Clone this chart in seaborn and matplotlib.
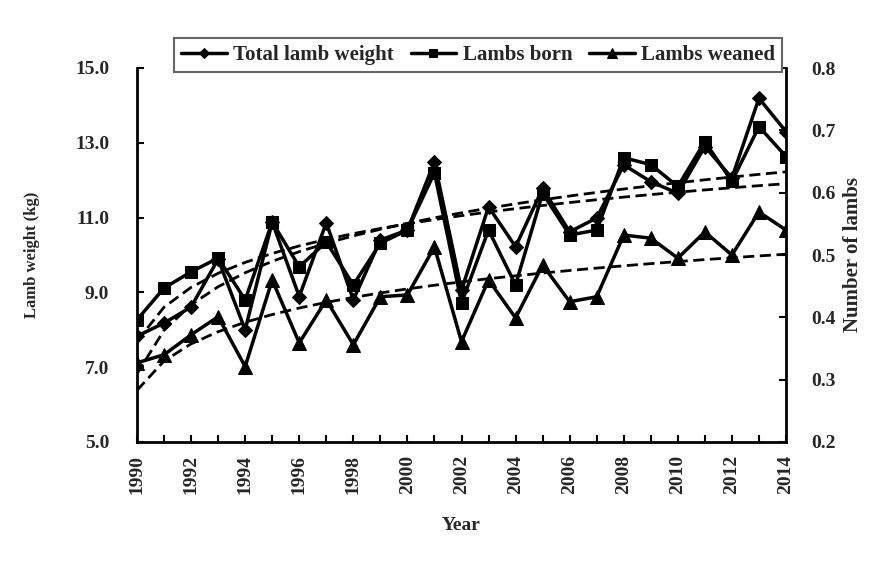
import numpy as np
import pandas as pd
import seaborn as sns
import matplotlib.pyplot as plt

# values
years = list(range(1990, 2015))
total_weight = [7.83, 8.18, 8.61, 9.89, 8.00, 10.88, 8.89, 10.86, 8.80, 10.40,
                10.67, 12.49, 9.06, 11.29, 10.22, 11.78, 10.62, 10.99, 12.41, 11.96,
                11.65, 12.90, 12.06, 14.19, 13.30]
lambs_born = [0.396, 0.447, 0.473, 0.495, 0.428, 0.553, 0.481, 0.521, 0.452, 0.519,
              0.540, 0.632, 0.423, 0.540, 0.452, 0.599, 0.532, 0.540, 0.656, 0.645,
              0.610, 0.682, 0.618, 0.706, 0.658]
lambs_weaned = [0.327, 0.340, 0.372, 0.401, 0.321, 0.460, 0.359, 0.428, 0.356, 0.433,
                0.436, 0.513, 0.361, 0.460, 0.399, 0.484, 0.425, 0.433, 0.532, 0.527,
                0.495, 0.537, 0.500, 0.569, 0.540]

df = pd.DataFrame({'Year': years, 'Total lamb weight': total_weight,
                   'Lambs born': lambs_born, 'Lambs weaned': lambs_weaned})

sns.set_style('white')
plt.rcParams['font.family'] = ['Liberation Serif', 'DejaVu Serif']
plt.rcParams['font.weight'] = 'bold'
plt.rcParams['xtick.direction'] = 'in'
plt.rcParams['ytick.direction'] = 'in'

fig = plt.figure(figsize=(8.81, 5.66), dpi=100)
ax = fig.add_axes([137 / 881, 1 - 442 / 566, (786 - 137) / 881, (442 - 68) / 566])
ax2 = ax.twinx()


def log_trend(y):
    # Excel-style logarithmic trendline
    idx = np.arange(1, len(y) + 1)
    a, b = np.polyfit(np.log(idx), y, 1)
    return a * np.log(idx) + b


sns.lineplot(data=df, x='Year', y='Total lamb weight', ax=ax, color='black',
             lw=2.5, marker='D', markersize=7, markeredgecolor='black')
sns.lineplot(data=df, x='Year', y='Lambs born', ax=ax2, color='black',
             lw=2.5, marker='s', markersize=9, markeredgecolor='black')
sns.lineplot(data=df, x='Year', y='Lambs weaned', ax=ax2, color='black',
             lw=2.5, marker='^', markersize=10, markeredgecolor='black')

ax.plot(years, log_trend(total_weight), color='black', lw=2, ls=(0, (4, 2)))
ax2.plot(years, log_trend(lambs_born), color='black', lw=2, ls=(0, (4, 2)))
ax2.plot(years, log_trend(lambs_weaned), color='black', lw=2, ls=(0, (4, 2)))

ax.set_xlim(1990, 2014)
ax.set_ylim(5, 15)
ax2.set_ylim(0.2, 0.8)
ax.set_xticks(years, minor=True)
ax.set_xticks(years[::2])
ax.set_xticklabels([str(y) for y in years[::2]], rotation=90, fontsize=14, fontweight='bold')
ax.set_yticks(np.arange(5, 15.1, 2))
ax.set_yticklabels(['%.1f' % v for v in np.arange(5, 15.1, 2)], fontsize=14, fontweight='bold')
ax2.set_yticks(np.arange(0.2, 0.81, 0.1))
ax2.set_yticklabels(['%.1f' % v for v in np.arange(0.2, 0.81, 0.1)], fontsize=14, fontweight='bold')

for a in (ax, ax2):
    a.spines['top'].set_visible(False)
    for s in ('left', 'right', 'bottom'):
        a.spines[s].set_linewidth(2)
        a.spines[s].set_color('black')
ax.spines['right'].set_visible(False)
ax2.spines['left'].set_visible(False)
ax2.spines['bottom'].set_visible(False)

ax.tick_params(axis='x', which='both', direction='in', length=5, width=1.5,
               color='black', bottom=True, pad=9)
ax.tick_params(axis='y', direction='in', length=5, width=1.5, color='black',
               left=True, pad=20)
ax2.tick_params(axis='y', direction='in', length=5, width=1.5, color='black',
                right=True, pad=18)

ax.set_xlabel('Year', fontsize=14, fontweight='bold')
ax.xaxis.set_label_coords(0.5, -0.2)
ax.set_ylabel('Lamb weight (kg)', fontsize=12, fontweight='bold')
ax.yaxis.set_label_coords(-0.15, 0.5)
ax2.set_ylabel('Number of lambs', fontsize=15, fontweight='bold')
ax2.yaxis.set_label_coords(1.088, 0.5)

# combined legend above the plot
handles = ax.get_lines()[:1] + ax2.get_lines()[:2]
for h in handles:
    h.set_markersize(h.get_markersize() * 0.7)
labels = ['Total lamb weight', 'Lambs born', 'Lambs weaned']
leg = fig.legend(handles, labels, loc='center', ncol=3,
                 bbox_to_anchor=(478 / 881, 1 - 55 / 566),
                 frameon=True, fancybox=False, framealpha=1, edgecolor='#666666',
                 prop={'size': 15, 'weight': 'bold'}, handlelength=2.2,
                 columnspacing=0.8, handletextpad=0.3, borderpad=0.35)
leg.get_frame().set_linewidth(1.5)
for h in handles:
    h.set_markersize(h.get_markersize() / 0.7)

fig.savefig('out.png', dpi=100)
